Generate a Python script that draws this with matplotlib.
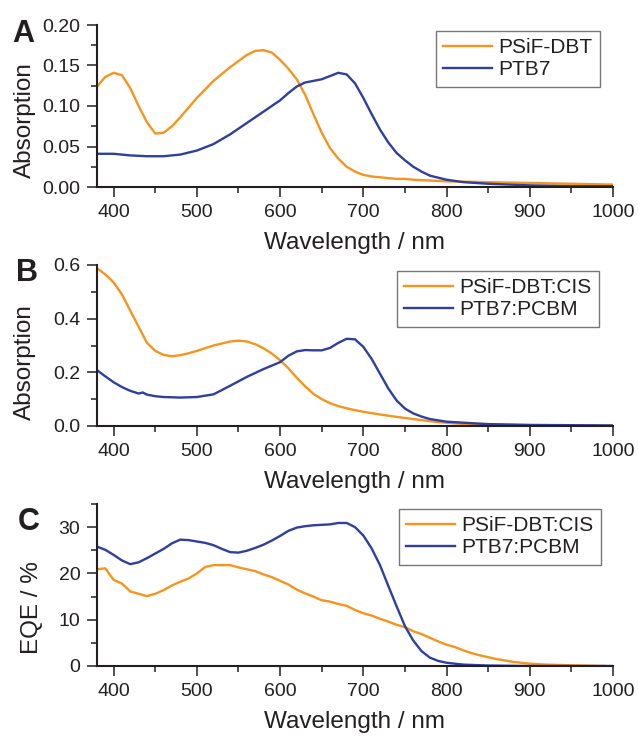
#!/usr/bin/env python3

from matplotlib import pyplot as plt
from matplotlib.ticker import MultipleLocator

plt.rcParams["font.family"] = ["Liberation Sans", "DejaVu Sans"]

ORANGE = "#f7941d"
BLUE = "#2e3f9e"
INK = "#231f20"

# panel A: pristine polymer films
wl_a_orange = [380, 390, 400, 410, 420, 430, 440, 450, 460, 470, 480, 500, 520, 540,
               560, 570, 580, 590, 600, 610, 620, 630, 640, 650, 660, 670, 680, 690,
               700, 710, 720, 730, 740, 750, 760, 780, 800, 850, 900, 950, 1000]
abs_a_psif = [0.124, 0.136, 0.141, 0.138, 0.122, 0.100, 0.080, 0.066, 0.067, 0.075,
              0.086, 0.110, 0.131, 0.148, 0.163, 0.168, 0.169, 0.166, 0.157, 0.146,
              0.133, 0.114, 0.090, 0.067, 0.048, 0.035, 0.025, 0.019, 0.015, 0.013,
              0.012, 0.011, 0.010, 0.010, 0.009, 0.008, 0.007, 0.006, 0.005, 0.004,
              0.003]
wl_a_blue = [380, 390, 400, 420, 440, 460, 480, 500, 520, 540, 560, 580, 600, 610,
             620, 630, 640, 650, 660, 670, 680, 690, 700, 710, 720, 730, 740, 750,
             760, 770, 780, 800, 820, 850, 900, 950, 1000]
abs_a_ptb7 = [0.041, 0.041, 0.041, 0.039, 0.038, 0.038, 0.040, 0.045, 0.053, 0.065,
              0.079, 0.093, 0.107, 0.116, 0.124, 0.129, 0.131, 0.133, 0.137, 0.141,
              0.139, 0.128, 0.110, 0.090, 0.071, 0.055, 0.042, 0.033, 0.025, 0.019,
              0.014, 0.009, 0.006, 0.004, 0.002, 0.001, 0.001]

# panel B: blend films
wl_b_orange = [380, 390, 400, 410, 420, 430, 440, 450, 460, 470, 480, 490, 500, 520,
               540, 550, 560, 570, 580, 590, 600, 610, 620, 630, 640, 650, 660, 670,
               680, 690, 700, 720, 740, 760, 780, 800, 820, 850, 900, 1000]
abs_b_psif = [0.588, 0.565, 0.535, 0.490, 0.430, 0.370, 0.310, 0.280, 0.265, 0.260,
              0.264, 0.271, 0.280, 0.300, 0.315, 0.318, 0.315, 0.305, 0.290, 0.270,
              0.245, 0.215, 0.180, 0.148, 0.120, 0.100, 0.085, 0.074, 0.066, 0.059,
              0.053, 0.043, 0.034, 0.026, 0.018, 0.012, 0.008, 0.005, 0.003, 0.001]
wl_b_blue = [380, 390, 400, 410, 420, 430, 435, 440, 450, 460, 480, 500, 520, 540,
             560, 580, 600, 610, 620, 630, 640, 650, 660, 670, 680, 690, 700, 710,
             720, 730, 740, 750, 760, 770, 780, 800, 850, 900, 1000]
abs_b_ptb7 = [0.208, 0.185, 0.163, 0.145, 0.131, 0.121, 0.125, 0.117, 0.111, 0.108,
              0.106, 0.108, 0.118, 0.150, 0.183, 0.212, 0.238, 0.262, 0.278, 0.283,
              0.282, 0.282, 0.291, 0.310, 0.325, 0.323, 0.295, 0.250, 0.195, 0.140,
              0.095, 0.065, 0.047, 0.035, 0.026, 0.016, 0.007, 0.004, 0.002]

# panel C: EQE of devices
wl_c_orange = [380, 390, 400, 410, 420, 430, 440, 450, 460, 470, 480, 490, 500, 510,
               520, 530, 540, 550, 560, 570, 580, 590, 600, 610, 620, 630, 640, 650,
               660, 670, 680, 690, 700, 710, 720, 730, 740, 750, 760, 770, 780, 790,
               800, 810, 820, 830, 840, 850, 860, 870, 880, 890, 900, 920, 940, 960,
               990]
eqe_c_psif = [20.9, 21.1, 18.6, 17.8, 16.1, 15.6, 15.1, 15.6, 16.4, 17.4, 18.2, 18.9,
              20.0, 21.4, 21.8, 21.8, 21.8, 21.3, 20.9, 20.5, 19.8, 19.2, 18.4, 17.6,
              16.5, 15.7, 15.0, 14.2, 13.9, 13.4, 13.0, 12.1, 11.4, 10.9, 10.2, 9.6,
              8.9, 8.4, 7.5, 6.9, 6.1, 5.3, 4.6, 4.1, 3.4, 2.8, 2.3, 1.9, 1.5, 1.2,
              0.9, 0.7, 0.5, 0.3, 0.2, 0.1, 0.0]
wl_c_blue = [380, 390, 400, 410, 420, 430, 440, 450, 460, 470, 480, 490, 500, 510,
             520, 530, 540, 550, 560, 570, 580, 590, 600, 610, 620, 630, 640, 650,
             660, 670, 680, 690, 700, 710, 720, 730, 740, 750, 760, 770, 780, 790,
             800, 820, 850, 900, 1000]
eqe_c_ptb7 = [25.8, 25.1, 24.0, 22.8, 22.0, 22.4, 23.3, 24.3, 25.3, 26.5, 27.3, 27.2,
              26.9, 26.6, 26.1, 25.3, 24.6, 24.5, 24.9, 25.5, 26.2, 27.1, 28.1, 29.2,
              29.9, 30.2, 30.4, 30.5, 30.6, 30.9, 30.9, 30.0, 28.2, 25.4, 21.8, 17.3,
              12.9, 8.6, 5.5, 3.2, 1.8, 1.1, 0.7, 0.3, 0.1, 0.0, 0.0]

W, H = 638, 736


def style_axes(ax, fig, ylim, ymajor, yminor, ylabel, fmt, label_xy):
    ax.set_xlim(380, 1000)
    ax.set_ylim(*ylim)
    ax.xaxis.set_major_locator(MultipleLocator(100))
    ax.xaxis.set_minor_locator(MultipleLocator(50))
    ax.yaxis.set_major_locator(MultipleLocator(ymajor))
    ax.yaxis.set_minor_locator(MultipleLocator(yminor))
    ax.yaxis.set_major_formatter(fmt)
    for side in ("top", "right"):
        ax.spines[side].set_visible(False)
    for side in ("left", "bottom"):
        ax.spines[side].set_linewidth(1.5)
        ax.spines[side].set_color(INK)
    ax.tick_params(which="major", direction="out", length=7, width=1.1,
                   labelsize=14, colors=INK, pad=5)
    ax.tick_params(which="minor", direction="out", length=4, width=1.1, colors=INK)
    ax.set_xlabel("Wavelength / nm", fontsize=17.5, color=INK, labelpad=8)
    ax.set_ylabel(ylabel, fontsize=17.5, color=INK)
    # y labels sit lower than centre, clear of the panel letters
    ax.yaxis.set_label_coords(label_xy[0] / W, 1 - label_xy[1] / H,
                              transform=fig.transFigure)


def add_legend(ax, fig, right, top):
    leg = ax.legend(loc="upper right", bbox_to_anchor=(right / W, 1 - top / H),
                    bbox_transform=fig.transFigure, borderaxespad=0, fontsize=15,
                    frameon=True, fancybox=False, handlelength=2.35,
                    handletextpad=0.3, labelspacing=0.15, borderpad=0.35)
    leg.get_frame().set_edgecolor("#555555")
    leg.get_frame().set_linewidth(1.0)
    for t in leg.get_texts():
        t.set_color(INK)


def main() -> int:
    fig = plt.figure(figsize=(W / 100, H / 100), dpi=100)

    left, right = 97 / W, 613 / W
    rows = [(25, 187), (265, 426), (504, 666)]
    axes = [fig.add_axes([left, 1 - b / H, right - left, (b - t) / H]) for t, b in rows]

    lw = 1.7
    ax = axes[0]
    ax.plot(wl_a_orange, abs_a_psif, color=ORANGE, lw=lw, label="PSiF-DBT")
    ax.plot(wl_a_blue, abs_a_ptb7, color=BLUE, lw=lw, label="PTB7")
    style_axes(ax, fig, (0, 0.20), 0.05, 0.025, "Absorption", "{x:.2f}", (36, 120))
    add_legend(ax, fig, 600, 31)

    ax = axes[1]
    ax.plot(wl_b_orange, abs_b_psif, color=ORANGE, lw=lw, label="PSiF-DBT:CIS")
    ax.plot(wl_b_blue, abs_b_ptb7, color=BLUE, lw=lw, label="PTB7:PCBM")
    style_axes(ax, fig, (0, 0.6), 0.2, 0.1, "Absorption", "{x:.1f}", (36, 362))
    add_legend(ax, fig, 599, 271)

    ax = axes[2]
    ax.plot(wl_c_orange, eqe_c_psif, color=ORANGE, lw=lw, label="PSiF-DBT:CIS")
    ax.plot(wl_c_blue, eqe_c_ptb7, color=BLUE, lw=lw, label="PTB7:PCBM")
    style_axes(ax, fig, (0, 35), 10, 5, "EQE / %", "{x:.0f}", (43, 608))
    add_legend(ax, fig, 601, 509)

    # panel letters
    for letter, x, y in (("A", 12, 42), ("B", 16, 281), ("C", 18, 530)):
        fig.text(x / W, 1 - y / H, letter, fontsize=22, fontweight="bold",
                 color=INK, va="baseline", ha="left")

    fig.savefig("out.png", dpi=100)
    return 0


if __name__ == "__main__":
    exit(main())
